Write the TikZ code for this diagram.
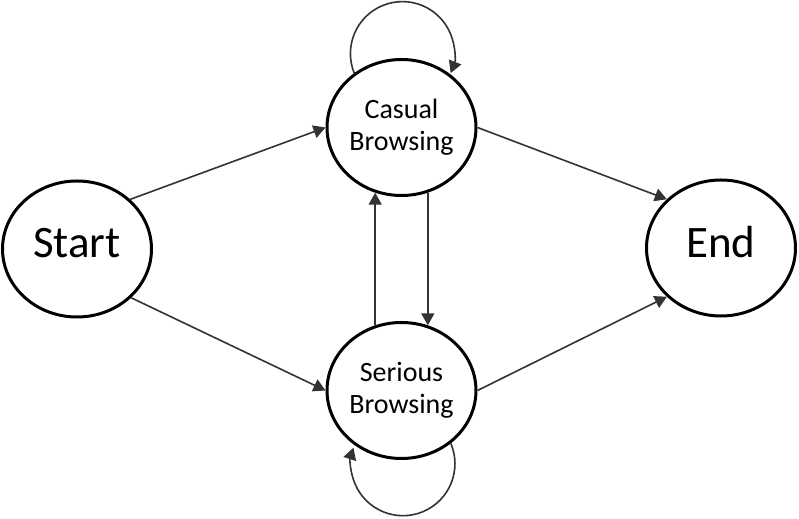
\documentclass[tikz,border=0pt]{standalone}
\usepackage{fontspec}
\setmainfont{Carlito}
\usetikzlibrary{shapes.geometric,arrows.meta}
\begin{document}
\begin{tikzpicture}[x=0.5pt,y=0.5pt,
  state/.style={ellipse,draw,line width=1.5pt,minimum width=74.5pt,minimum height=68pt,inner sep=0pt,align=center,font=\fontsize{14}{16}\selectfont},
  big/.style={font=\fontsize{22.5}{27}\selectfont,text depth=6.5pt},
  trans/.style={draw=black!80,line width=0.8pt,-{Triangle[length=6pt,width=6.5pt]}}]
\useasboundingbox (0,0) rectangle (799,519);
\node at (77,270) [state,big] (s) {Start};
\node at (401.5,391.5) [state] (c) {Casual\\Browsing};
\node at (401.5,128.5) [state] (r) {Serious\\Browsing};
\node at (721,271) [state,big] (e) {End};
\draw[trans] (s.43) -- (c.west);
\draw[trans] (s.-42) -- (r.west);
\draw[trans] (c.east) -- (e.138);
\draw[trans] (r.east) -- (e.222);
\draw[trans] (c.-68) -- (r.68);
\draw[trans] (r.112) -- (c.-112);
% self loops
\draw[trans] (c.131) arc[start angle=202,end angle=-22,radius=26pt];
\draw[trans] (r.-47) arc[start angle=23,end angle=-198,radius=26pt];
\end{tikzpicture}
\end{document}
